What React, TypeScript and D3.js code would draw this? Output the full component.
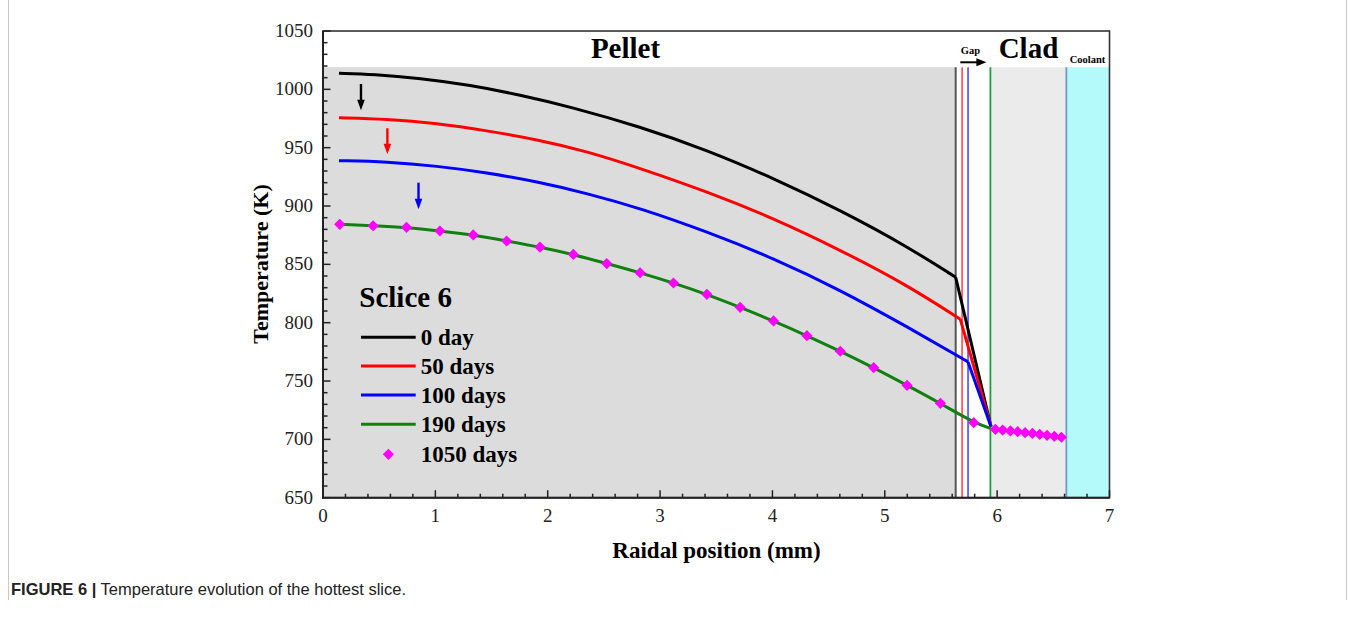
import React from "react";
import * as d3 from "d3";

// ---- data ----
const xTicks = [0, 1, 2, 3, 4, 5, 6, 7];
const yTicks = [650, 700, 750, 800, 850, 900, 950, 1000, 1050];

const day0R = [0.142, 0.448, 0.864, 1.309, 1.754, 2.199, 2.823, 3.417, 4.01, 4.604, 5.198, 5.631];
const day0T = [1013.8, 1012.9, 1009.5, 1003.7, 995.2, 985.1, 968.0, 948.0, 923.8, 896.4, 865.5, 838.9];
const day50R = [0.142, 0.567, 1.012, 1.458, 1.903, 2.348, 2.823, 3.417, 4.01, 4.604, 5.198, 5.672];
const day50T = [975.7, 974.6, 970.9, 964.6, 957.0, 946.9, 932.3, 912.3, 889.5, 862.3, 832.3, 803.0];
const day100R = [0.142, 0.567, 1.012, 1.458, 1.903, 2.348, 2.823, 3.417, 4.01, 4.604, 5.198, 5.741];
const day100T = [938.9, 938.0, 934.3, 928.6, 920.9, 910.9, 898.1, 878.0, 855.2, 828.0, 796.6, 766.4];
const cladInnerR = 5.945;
const cladInnerT = 711;

const day190R = [0.149, 0.446, 0.743, 1.04, 1.337, 1.634, 1.931, 2.228, 2.525, 2.822, 3.119, 3.416, 3.713, 4.01, 4.307, 4.604, 4.901, 5.198, 5.495, 5.792, 5.94];
const day190T = [884.3, 883.1, 881.7, 878.6, 875.2, 870.0, 864.8, 858.5, 850.7, 842.8, 834.0, 824.3, 813.2, 801.5, 788.9, 775.5, 761.4, 746.3, 730.9, 714.3, 709.5];

const day1050R = [0.149, 0.446, 0.743, 1.04, 1.337, 1.634, 1.931, 2.228, 2.525, 2.822, 3.119, 3.416, 3.713, 4.01, 4.307, 4.604, 4.901, 5.198, 5.495, 5.792,
  5.984, 6.049, 6.118, 6.183, 6.249, 6.314, 6.379, 6.444, 6.509, 6.572];
const day1050T = [884.3, 883.1, 881.7, 878.6, 875.2, 870.0, 864.8, 858.5, 850.7, 842.8, 834.0, 824.3, 813.2, 801.5, 788.9, 775.5, 761.4, 746.3, 730.9, 714.3,
  708.6, 708.0, 707.2, 706.6, 705.7, 705.2, 704.3, 703.5, 702.6, 701.8];

// region boundaries (mm) and top of shaded area (K)
const pelletEdge = 5.631;
const gapLineRed = 5.688;
const gapLineBlue = 5.741;
const cladInner = 5.94;
const cladOuter = 6.616;
const shadeTop = 1019;

// arrows (mm, K)
const arrowR = [0.338, 0.573, 0.85];
const arrowFrom = [1004.6, 966.6, 920.0];
const arrowTo = [982.0, 944.3, 897.2];
const arrowColors = ["#000000", "#ff0000", "#0000ff"];

const legendLabels = ["0 day", "50 days", "100 days", "190 days", "1050 days"];

const SERIF = "'Liberation Serif', 'Times New Roman', 'DejaVu Serif', serif";

export default function App() {
  const W = 1355, H = 625;
  const x = d3.scaleLinear().domain([0, 7]).range([323, 1109.5]);
  const y = d3.scaleLinear().domain([650, 1050]).range([497.7, 31]);

  const pts = (rs: number[], ts: number[]) => rs.map((r, i) => [r, ts[i]] as [number, number]);
  const smooth = d3.line<[number, number]>().x(d => x(d[0])).y(d => y(d[1])).curve(d3.curveBasis);
  const straight = d3.line<[number, number]>().x(d => x(d[0])).y(d => y(d[1]));

  const curves = [
    { r: day0R, t: day0T, c: "#000000" },
    { r: day50R, t: day50T, c: "#ff0000" },
    { r: day100R, t: day100T, c: "#0000ff" },
  ];

  const xMinor: number[] = [];
  for (let v = 0; v <= 7.0001; v += 0.2) xMinor.push(+v.toFixed(2));
  const yMinor: number[] = [];
  for (let v = 650; v <= 1050; v += 10) yMinor.push(v);

  const diamond = (cx: number, cy: number, s = 5.6) => `M${cx},${cy - s}L${cx + s},${cy}L${cx},${cy + s}L${cx - s},${cy}Z`;

  const y0 = y(650), yTop = y(shadeTop);
  const legendRows = [337.3, 366, 395, 424.3, 454.3];
  const legendColors = ["#000000", "#ff0000", "#0000ff", "#118011"];

  return (
    <svg width={W} height={H} style={{ position: "absolute", left: 0, top: 0, background: "#fff" }}
      fontFamily={SERIF}>
      {/* figure frame */}
      <line x1={8.5} y1={0} x2={8.5} y2={600} stroke="#c8c8c8" strokeWidth={1} />
      <line x1={1346.5} y1={0} x2={1346.5} y2={600} stroke="#c8c8c8" strokeWidth={1} />

      {/* regions */}
      <rect x={x(0)} y={yTop} width={x(pelletEdge) - x(0)} height={y0 - yTop} fill="#dcdcdc" />
      <rect x={x(cladInner)} y={yTop} width={x(cladOuter) - x(cladInner)} height={y0 - yTop} fill="#ebebeb" />
      <rect x={x(cladOuter)} y={yTop} width={x(7) - x(cladOuter)} height={y0 - yTop} fill="#b5fafa" />

      {/* vertical boundary lines */}
      <line x1={x(pelletEdge)} x2={x(pelletEdge)} y1={yTop} y2={y0} stroke="#555" strokeWidth={2} />
      <line x1={x(gapLineRed)} x2={x(gapLineRed)} y1={yTop} y2={y0} stroke="#ff4a4a" strokeWidth={1.6} />
      <line x1={x(gapLineBlue)} x2={x(gapLineBlue)} y1={yTop} y2={y0} stroke="#4a4aff" strokeWidth={1.6} />
      <line x1={x(cladInner)} x2={x(cladInner)} y1={yTop} y2={y0} stroke="#1ea03c" strokeWidth={1.8} />
      <line x1={x(cladOuter)} x2={x(cladOuter)} y1={yTop} y2={y0} stroke="#6d9ac6" strokeWidth={1.8} />

      {/* curves */}
      {curves.map((c, i) => {
        const p = pts(c.r, c.t);
        return (
          <g key={i}>
            <path d={smooth(p) || ""} fill="none" stroke={c.c} strokeWidth={3} />
            <path d={straight([p[p.length - 1], [cladInnerR, cladInnerT]]) || ""} fill="none" stroke={c.c} strokeWidth={3} />
          </g>
        );
      })}
      <path d={smooth(pts(day190R, day190T)) || ""} fill="none" stroke="#118011" strokeWidth={3} />
      {day1050R.map((r, i) => (
        <path key={i} d={diamond(x(r), y(day1050T[i]))} fill="#ff00ff" />
      ))}

      {/* arrows */}
      {arrowR.map((r, i) => {
        const ax = x(r), ya = y(arrowFrom[i]), yb = y(arrowTo[i]);
        return (
          <g key={i}>
            <line x1={ax} x2={ax} y1={ya} y2={yb - 8} stroke={arrowColors[i]} strokeWidth={2.4} />
            <path d={`M${ax - 3.8},${yb - 10.5}L${ax + 3.8},${yb - 10.5}L${ax},${yb}Z`} fill={arrowColors[i]} />
          </g>
        );
      })}

      {/* gap arrow */}
      <line x1={x(5.672)} x2={x(5.86)} y1={62.3} y2={62.3} stroke="#000" strokeWidth={2} />
      <path d={`M${x(5.904)},62.3L${x(5.904) - 10},58.3L${x(5.904) - 10},66.3Z`} fill="#000" />

      {/* region labels */}
      <text x={625.5} y={58} fontSize={29} fontWeight="bold" textAnchor="middle">Pellet</text>
      <text x={1028.5} y={57.5} fontSize={29} fontWeight="bold" textAnchor="middle">Clad</text>
      <text x={970.5} y={54.3} fontSize={10.5} fontWeight="bold" textAnchor="middle">Gap</text>
      <text x={1087.5} y={63.3} fontSize={10.5} fontWeight="bold" textAnchor="middle">Coolant</text>

      {/* frame */}
      <rect x={x(0)} y={y(1050)} width={x(7) - x(0)} height={y(650) - y(1050)} fill="none" stroke="#333" strokeWidth={1.6} />
      <line x1={x(0)} x2={x(0)} y1={y(1050)} y2={y0 + 1} stroke="#222" strokeWidth={2} />
      <line x1={x(0) - 1} x2={x(7)} y1={y0} y2={y0} stroke="#222" strokeWidth={2} />

      {/* ticks */}
      {xMinor.map((v, i) => {
        const major = Math.abs(v - Math.round(v)) < 1e-6;
        return <line key={i} x1={x(v)} x2={x(v)} y1={y0} y2={y0 - (major ? 7.5 : 4)} stroke="#222" strokeWidth={1.5} />;
      })}
      {yMinor.map((v, i) => {
        const major = v % 50 === 0;
        return <line key={i} x1={x(0)} x2={x(0) + (major ? 7.5 : 4.5)} y1={y(v)} y2={y(v)} stroke="#222" strokeWidth={1.5} />;
      })}
      {xTicks.map(v => (
        <text key={v} x={x(v)} y={522} fontSize={19} fontFamily={SERIF} textAnchor="middle" fill="#222">{v}</text>
      ))}
      {yTicks.map(v => (
        <text key={v} x={313} y={y(v) + 6} fontSize={19} fontFamily={SERIF} textAnchor="end" fill="#222">{v}</text>
      ))}

      {/* axis titles */}
      <text x={716.5} y={558} fontSize={23} fontWeight="bold" textAnchor="middle">Raidal position (mm)</text>
      <text transform={`translate(268,264) rotate(-90)`} fontSize={22} fontWeight="bold" textAnchor="middle">Temperature (K)</text>

      {/* legend */}
      <text x={359.3} y={306.7} fontSize={29} fontWeight="bold">Sclice 6</text>
      {legendLabels.map((lab, i) => (
        <g key={lab}>
          {i < 4 ? (
            <line x1={361} x2={415.7} y1={legendRows[i]} y2={legendRows[i]} stroke={legendColors[i]} strokeWidth={3} />
          ) : (
            <path d={diamond(388.4, legendRows[i])} fill="#ff00ff" />
          )}
          <text x={420.7} y={legendRows[i] + 8} fontSize={23} fontWeight="bold">{lab}</text>
        </g>
      ))}

      {/* caption */}
      <text x={11} y={595} fontSize={16.5} fontFamily="'Liberation Sans', Arial, sans-serif" fill="#222">
        <tspan fontWeight="bold">FIGURE 6 |</tspan>
        <tspan> Temperature evolution of the hottest slice.</tspan>
      </text>
    </svg>
  );
}
